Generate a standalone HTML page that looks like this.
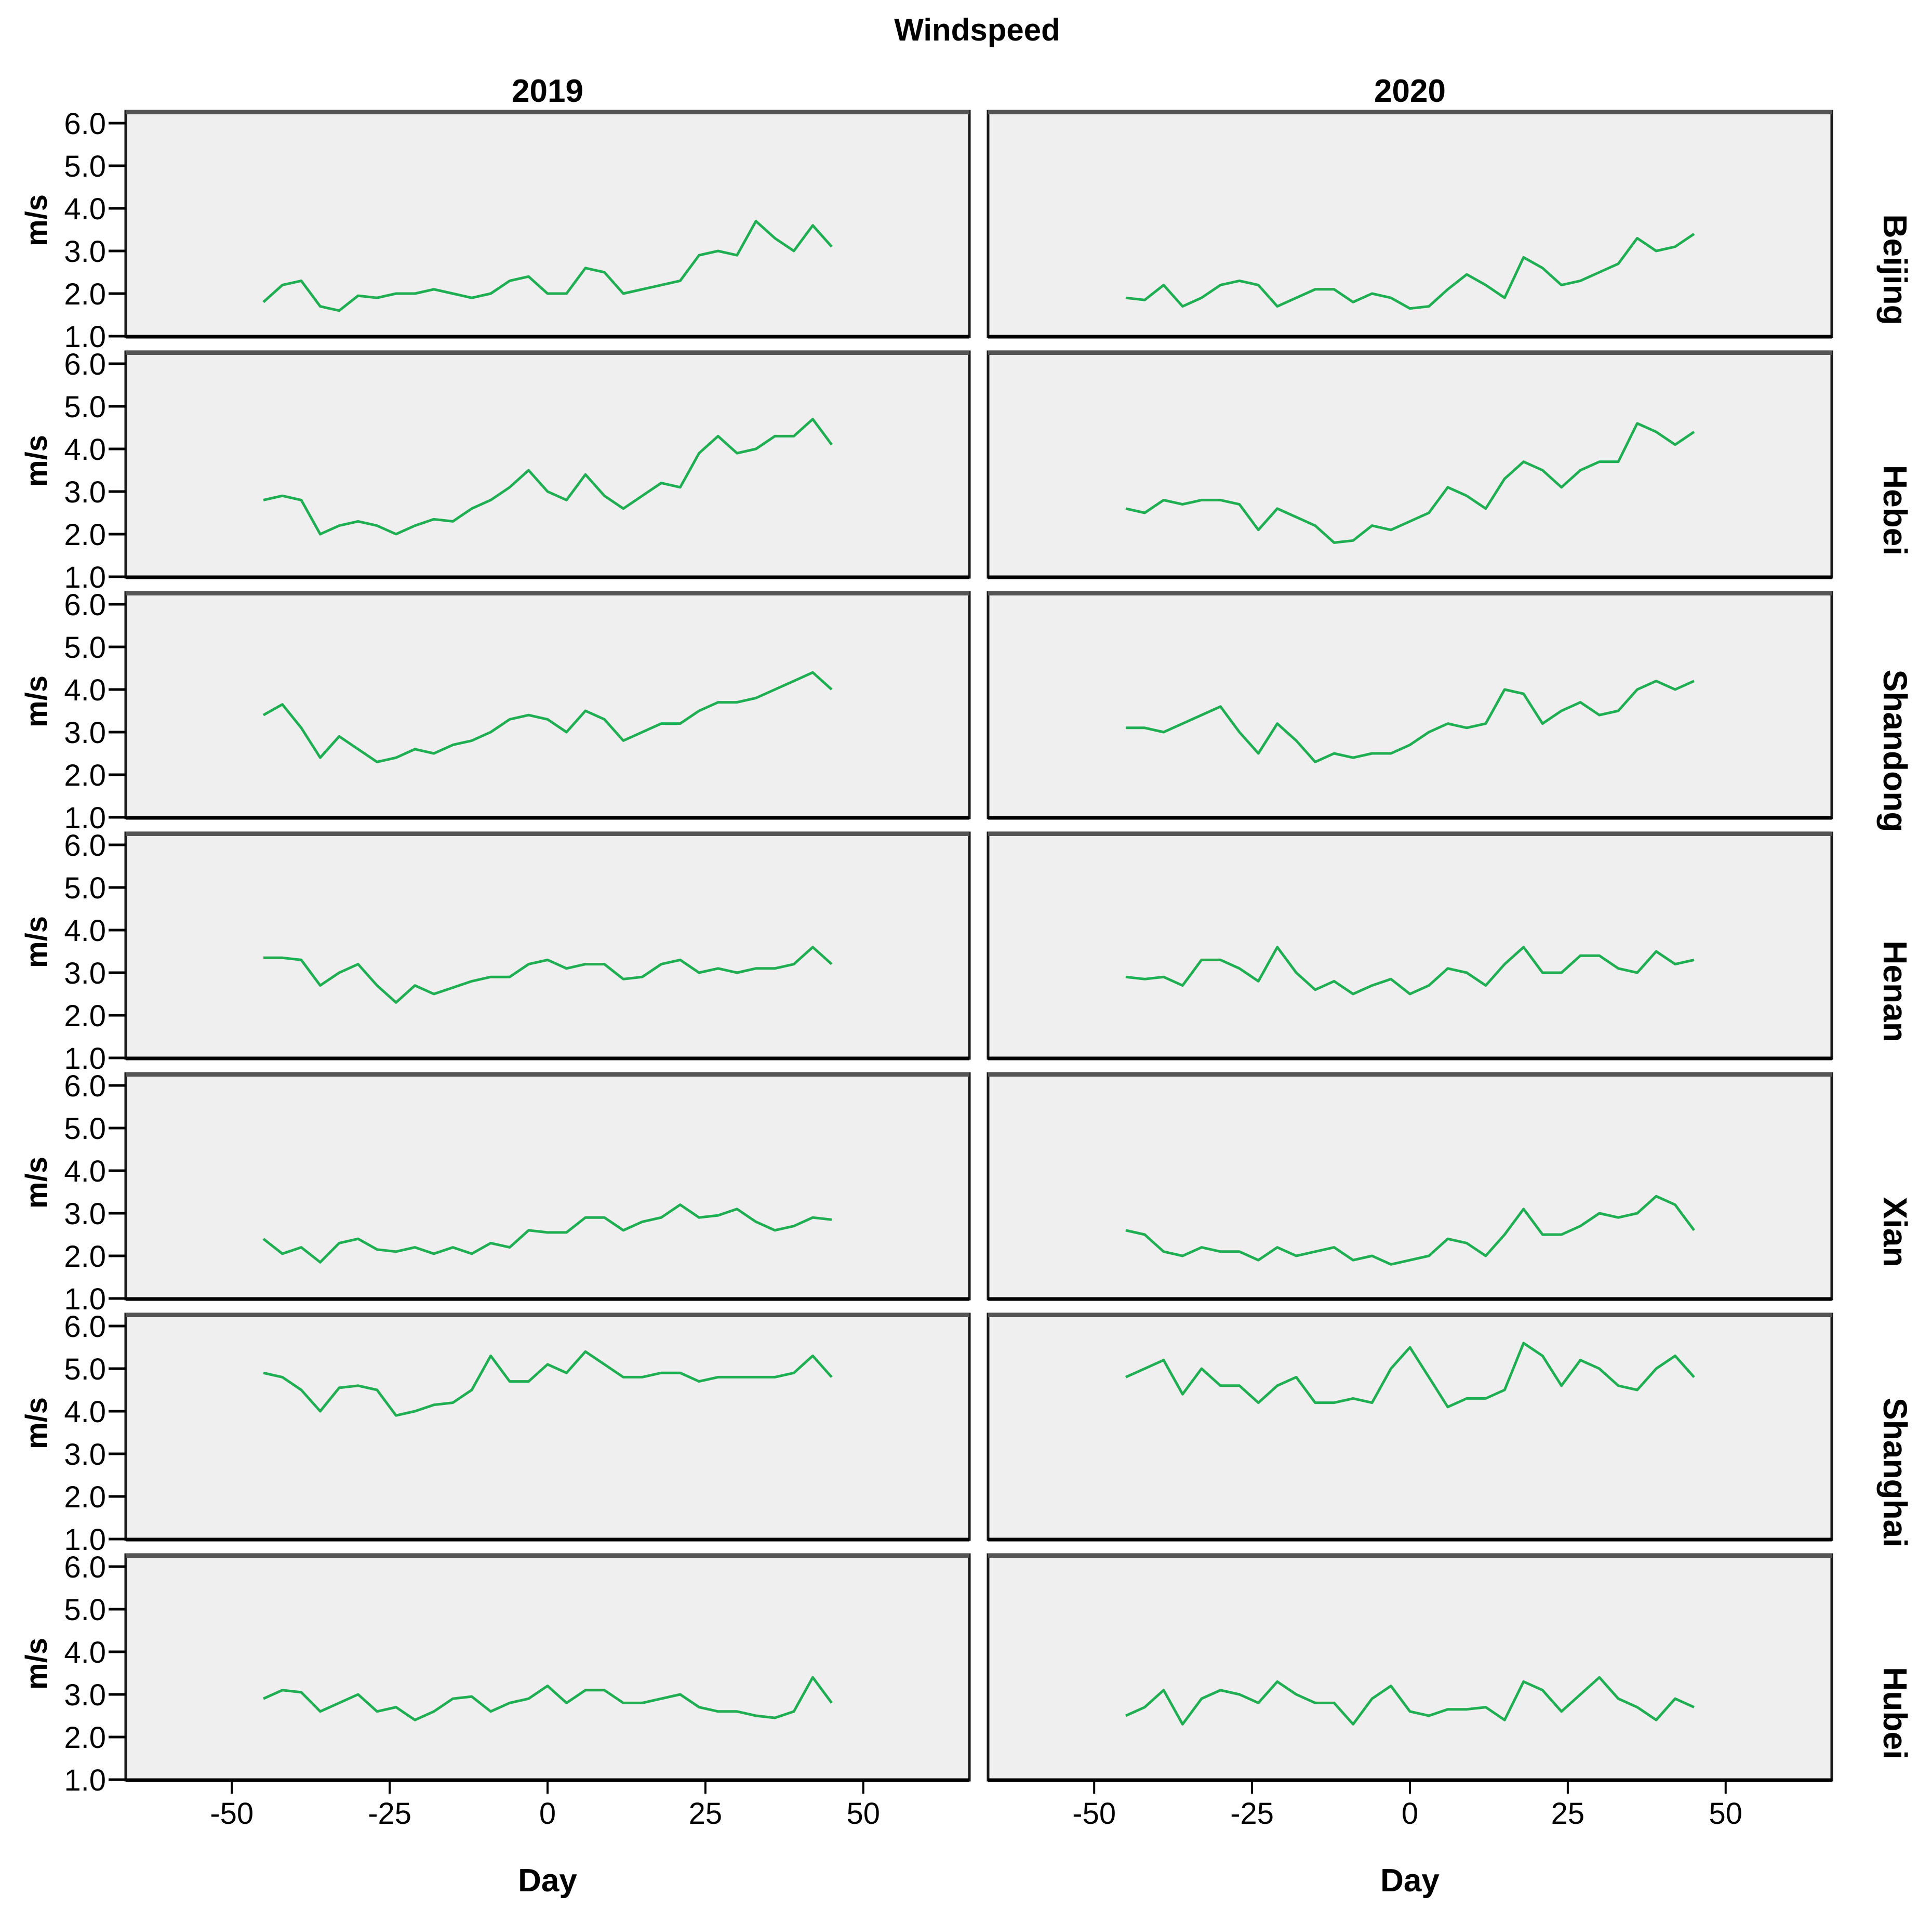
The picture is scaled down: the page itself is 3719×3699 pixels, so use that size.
<!DOCTYPE html>
<html><head><meta charset="utf-8"><style>
html,body{margin:0;padding:0;background:#fff;}
svg{display:block;}
text{font-family:"Liberation Sans",sans-serif;fill:#000;}
</style></head><body>
<svg id="chart" width="3719" height="3699" viewBox="0 0 3719 3699" xmlns="http://www.w3.org/2000/svg">
<text x="1881" y="78" font-size="60" font-weight="bold" text-anchor="middle">Windspeed</text>
<text x="1054" y="196" font-size="62" font-weight="bold" text-anchor="middle">2019</text>
<text x="2714" y="196" font-size="62" font-weight="bold" text-anchor="middle">2020</text>
<g id="panels"></g>
</svg>
<script>
const days = [-45,-42,-39,-36,-33,-30,-27,-24,-21,-18,-15,-12,-9,-6,-3,0,3,6,9,12,15,18,21,24,27,30,33,36,39,42,45];
const regions = ["Beijing","Hebei","Shandong","Henan","Xian","Shanghai","Hubei"];
const years = ["2019","2020"];
const yTicks = [1,2,3,4,5,6];
const yTickLabels = ["1.0","2.0","3.0","4.0","5.0","6.0"];
const xTicks = [-50,-25,0,25,50];
const xTickLabels = ["-50","-25","0","25","50"];

const beijing2019 = [1.8,2.2,2.3,1.7,1.6,1.95,1.9,2.0,2.0,2.1,2.0,1.9,2.0,2.3,2.4,2.0,2.0,2.6,2.5,2.0,2.1,2.2,2.3,2.9,3.0,2.9,3.7,3.3,3.0,3.6,3.1];
const beijing2020 = [1.9,1.85,2.2,1.7,1.9,2.2,2.3,2.2,1.7,1.9,2.1,2.1,1.8,2.0,1.9,1.65,1.7,2.1,2.45,2.2,1.9,2.85,2.6,2.2,2.3,2.5,2.7,3.3,3.0,3.1,3.4];
const hebei2019 = [2.8,2.9,2.8,2.0,2.2,2.3,2.2,2.0,2.2,2.35,2.3,2.6,2.8,3.1,3.5,3.0,2.8,3.4,2.9,2.6,2.9,3.2,3.1,3.9,4.3,3.9,4.0,4.3,4.3,4.7,4.1];
const hebei2020 = [2.6,2.5,2.8,2.7,2.8,2.8,2.7,2.1,2.6,2.4,2.2,1.8,1.85,2.2,2.1,2.3,2.5,3.1,2.9,2.6,3.3,3.7,3.5,3.1,3.5,3.7,3.7,4.6,4.4,4.1,4.4];
const shandong2019 = [3.4,3.65,3.1,2.4,2.9,2.6,2.3,2.4,2.6,2.5,2.7,2.8,3.0,3.3,3.4,3.3,3.0,3.5,3.3,2.8,3.0,3.2,3.2,3.5,3.7,3.7,3.8,4.0,4.2,4.4,4.0];
const shandong2020 = [3.1,3.1,3.0,3.2,3.4,3.6,3.0,2.5,3.2,2.8,2.3,2.5,2.4,2.5,2.5,2.7,3.0,3.2,3.1,3.2,4.0,3.9,3.2,3.5,3.7,3.4,3.5,4.0,4.2,4.0,4.2];
const henan2019 = [3.35,3.35,3.3,2.7,3.0,3.2,2.7,2.3,2.7,2.5,2.65,2.8,2.9,2.9,3.2,3.3,3.1,3.2,3.2,2.85,2.9,3.2,3.3,3.0,3.1,3.0,3.1,3.1,3.2,3.6,3.2];
const henan2020 = [2.9,2.85,2.9,2.7,3.3,3.3,3.1,2.8,3.6,3.0,2.6,2.8,2.5,2.7,2.85,2.5,2.7,3.1,3.0,2.7,3.2,3.6,3.0,3.0,3.4,3.4,3.1,3.0,3.5,3.2,3.3];
const xian2019 = [2.4,2.05,2.2,1.85,2.3,2.4,2.15,2.1,2.2,2.05,2.2,2.05,2.3,2.2,2.6,2.55,2.55,2.9,2.9,2.6,2.8,2.9,3.2,2.9,2.95,3.1,2.8,2.6,2.7,2.9,2.85];
const xian2020 = [2.6,2.5,2.1,2.0,2.2,2.1,2.1,1.9,2.2,2.0,2.1,2.2,1.9,2.0,1.8,1.9,2.0,2.4,2.3,2.0,2.5,3.1,2.5,2.5,2.7,3.0,2.9,3.0,3.4,3.2,2.6];
const shanghai2019 = [4.9,4.8,4.5,4.0,4.55,4.6,4.5,3.9,4.0,4.15,4.2,4.5,5.3,4.7,4.7,5.1,4.9,5.4,5.1,4.8,4.8,4.9,4.9,4.7,4.8,4.8,4.8,4.8,4.9,5.3,4.8];
const shanghai2020 = [4.8,5.0,5.2,4.4,5.0,4.6,4.6,4.2,4.6,4.8,4.2,4.2,4.3,4.2,5.0,5.5,4.8,4.1,4.3,4.3,4.5,5.6,5.3,4.6,5.2,5.0,4.6,4.5,5.0,5.3,4.8];
const hubei2019 = [2.9,3.1,3.05,2.6,2.8,3.0,2.6,2.7,2.4,2.6,2.9,2.95,2.6,2.8,2.9,3.2,2.8,3.1,3.1,2.8,2.8,2.9,3.0,2.7,2.6,2.6,2.5,2.45,2.6,3.4,2.8];
const hubei2020 = [2.5,2.7,3.1,2.3,2.9,3.1,3.0,2.8,3.3,3.0,2.8,2.8,2.3,2.9,3.2,2.6,2.5,2.65,2.65,2.7,2.4,3.3,3.1,2.6,3.0,3.4,2.9,2.7,2.4,2.9,2.7];

const series = [
  [beijing2019, beijing2020],
  [hebei2019, hebei2020],
  [shandong2019, shandong2020],
  [henan2019, henan2020],
  [xian2019, xian2020],
  [shanghai2019, shanghai2020],
  [hubei2019, hubei2020]
];

const NS = "http://www.w3.org/2000/svg";
const root = document.getElementById("panels");
const colLeft = [242, 1902];
const panelW = 1624, panelH = 434, rowTop0 = 214, rowPitch = 463;
const xMin = -66.8, xMax = 66.8;
const yMin = 1.0, unit = 82;

function mk(tag, attrs, parent) {
  const el = document.createElementNS(NS, tag);
  for (const k in attrs) el.setAttribute(k, attrs[k]);
  parent.appendChild(el);
  return el;
}
function xScale(c, d) { return colLeft[c] + (d - xMin) / (xMax - xMin) * panelW; }
function yScale(r, v) { return rowTop0 + r * rowPitch + panelH - 1 - (v - yMin) * unit; }

for (let r = 0; r < regions.length; r++) {
  const top = rowTop0 + r * rowPitch;
  for (let c = 0; c < 2; c++) {
    const left = colLeft[c];
    const g = mk("g", {}, root);
    
    
    const bg = mk("rect", {x: left, y: top, width: panelW, height: panelH, fill: "#efefef", stroke: "#1a1a1a", "stroke-width": 5}, g);
    
    
    const topBar = mk("line", {x1: left, x2: left + panelW, y1: top + 2, y2: top + 2, stroke: "#555", "stroke-width": 8}, g);
    
    
    const botBar = mk("line", {x1: left, x2: left + panelW, y1: top + panelH, y2: top + panelH, stroke: "#000", "stroke-width": 7}, g);
    
    

    const vals = series[r][c];
    let dpath = "";
    for (let i = 0; i < days.length; i++) {
      dpath += (i ? "L" : "M") + xScale(c, days[i]).toFixed(1) + "," + yScale(r, vals[i]).toFixed(1);
    }
    const line = mk("path", {d: dpath, fill: "none", stroke: "#1fae52", "stroke-width": 5, "stroke-linejoin": "round"}, g);
    
    

    if (c === 0) {
      for (let t = 0; t < yTicks.length; t++) {
        const y = yScale(r, yTicks[t]);
        const tk = mk("line", {x1: 209, x2: 242, y1: y, y2: y, stroke: "#000", "stroke-width": 5}, g);
        
        
        const tl = mk("text", {x: 204, y: y + 21, "font-size": 58, "text-anchor": "end"}, g);
        tl.textContent = yTickLabels[t];
        
        
      }
      const cy = top + 210;
      const yt = mk("text", {x: 0, y: 0, "font-size": 58, "font-weight": "bold", "text-anchor": "middle", transform: "translate(90," + cy + ") rotate(-90)"}, g);
      yt.textContent = "m/s";
      
      
    } else {
      const cy = top + 305;
      const rl = mk("text", {x: 0, y: 0, "font-size": 64, "font-weight": "bold", "text-anchor": "middle", transform: "translate(3626," + cy + ") rotate(90)"}, g);
      rl.textContent = regions[r];
      
      
    }

    if (r === regions.length - 1) {
      for (let t = 0; t < xTicks.length; t++) {
        const x = xScale(c, xTicks[t]);
        const tk = mk("line", {x1: x, x2: x, y1: top + panelH, y2: top + panelH + 26, stroke: "#000", "stroke-width": 4}, g);
        
        
        const tl = mk("text", {x: x, y: 3510, "font-size": 58, "text-anchor": "middle"}, g);
        tl.textContent = xTickLabels[t];
        
        
      }
      const xt = mk("text", {x: left + panelW / 2, y: 3640, "font-size": 62, "font-weight": "bold", "text-anchor": "middle"}, g);
      xt.textContent = "Day";
      
      
    }
  }
}
</script>
</body></html>
